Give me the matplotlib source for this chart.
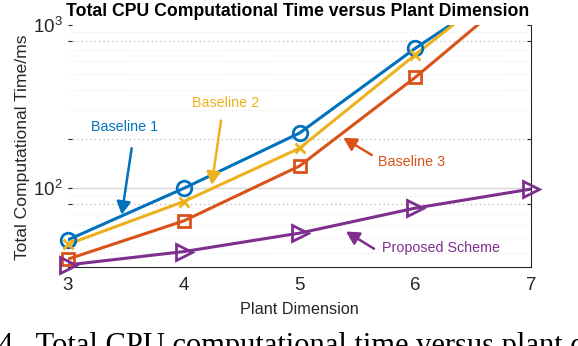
import numpy as np
import matplotlib
matplotlib.use("Agg")
import matplotlib.pyplot as plt
from matplotlib.ticker import LogLocator, NullFormatter, FixedLocator, FixedFormatter

plt.rcParams["font.family"] = ["Liberation Sans", "DejaVu Sans"]

# values (ms), x = plant dimension
dims = [3, 4, 5, 6, 7]
baseline1 = [48.4, 100, 218, 720, 2130]
baseline2 = [45.5, 83, 176, 657, 2390]
baseline3 = [36.9, 63.2, 137, 478, 1880]
proposed = [34.0, 41.0, 53.2, 75.7, 99]

series_names = ["Baseline 1", "Baseline 2", "Baseline 3", "Proposed Scheme"]
series_values = [baseline1, baseline2, baseline3, proposed]
colors = ["#0072BD", "#EDB120", "#D95319", "#7E2F8E"]
markers = ["o", "x", "s", ">"]
marker_sizes = [10.5, 7, 8, 11.5]

ytick_values = [80, 100, 200, 800, 1000]
ytick_labels = ["", r"$\mathdefault{10^{2}}$", "", "", r"$\mathdefault{10^{3}}$"]
xtick_labels = ["3", "4", "5", "6", "7"]

# annotation: (text centre, arrow tail, arrow head) in data units
notes = [
    ((3.49, 239), (3.55, 176), (3.464, 69)),
    ((4.365, 335), (4.322, 260), (4.241, 105)),
    ((5.97, 145), (5.624, 160), (5.378, 204)),
    ((6.22, 43.4), (5.644, 42.7), (5.402, 54.4)),
]

fig = plt.figure(figsize=(5.78, 3.46), dpi=100)
ax = fig.add_axes([68 / 578, 1 - 267 / 346, (531 - 68) / 578, (267 - 25) / 346])
ax.set_yscale("log")
ax.set_xlim(3, 7)
ax.set_ylim(33, 1000)

# grid
ax.yaxis.set_minor_locator(LogLocator(base=10, subs=np.arange(2, 10)))
ax.yaxis.set_minor_formatter(NullFormatter())
ax.grid(which="minor", axis="y", ls=(0, (1, 2.5)), color="#e4e4e4", lw=0.8)
ax.yaxis.set_major_locator(FixedLocator(ytick_values))
ax.yaxis.set_major_formatter(FixedFormatter(ytick_labels))
for v in ytick_values:
    if v == 100:
        ax.axhline(v, color="#d8d8d8", lw=1.0, zorder=0.5)
    elif v < 1000:
        ax.axhline(v, color="#b8b8b8", lw=0.9, ls=(0, (1, 2.5)), zorder=0.5)

for name, vals, c, m, ms in zip(series_names, series_values, colors, markers, marker_sizes):
    ax.plot(dims, vals, color=c, lw=2.2, zorder=2)
    shown = [(d, v) for d, v in zip(dims, vals) if v <= 1000]
    ax.plot([d for d, _ in shown], [v for _, v in shown], ls="none", marker=m,
            ms=ms, mfc="none", mec=c, mew=2.0, clip_on=False, zorder=3)

for (name, c, (txt, tail, head)) in zip(series_names, colors, notes):
    ax.text(txt[0], txt[1], name, color=c, fontsize=10.3, ha="center", va="center")
    ax.annotate("", xy=head, xytext=tail,
                arrowprops=dict(arrowstyle="-|>,head_length=0.55,head_width=0.3",
                                color=c, lw=1.8, shrinkA=0, shrinkB=0,
                                mutation_scale=14))

ax.set_xticks(dims)
ax.set_xticklabels(xtick_labels)
ax.tick_params(axis="x", length=0, pad=7, labelsize=13.5, colors="#262626")
ax.tick_params(axis="y", which="major", direction="in", length=3, left=True, right=True,
               labelsize=13.5, pad=4, colors="#262626")
ax.tick_params(axis="y", which="minor", length=0)
ax.spines["left"].set_visible(False)
ax.spines["top"].set_visible(False)
ax.spines["bottom"].set_color("#262626")
ax.spines["right"].set_color("#262626")

fig.text(299 / 578, 1 - 310 / 346, "Plant Dimension", fontsize=11.7, ha="center",
         va="center", color="#262626")
fig.text(23 / 578, 1 - 147 / 346, "Total Computational Time/ms", fontsize=12.6,
         rotation=90, ha="center", va="center", color="#262626")
fig.text(298 / 578, 1 - 12 / 346, "Total CPU Computational Time versus Plant Dimension",
         fontsize=12.7, fontweight="bold", ha="center", va="center")

# figure caption from the paper, cut by the crop as in the reference
fig.text(-2 / 578, -8 / 346, "4.  Total CPU computational time versus plant dimension",
         family="Liberation Serif", fontsize=22, ha="left", va="baseline")

fig.savefig("out.png", dpi=100)
